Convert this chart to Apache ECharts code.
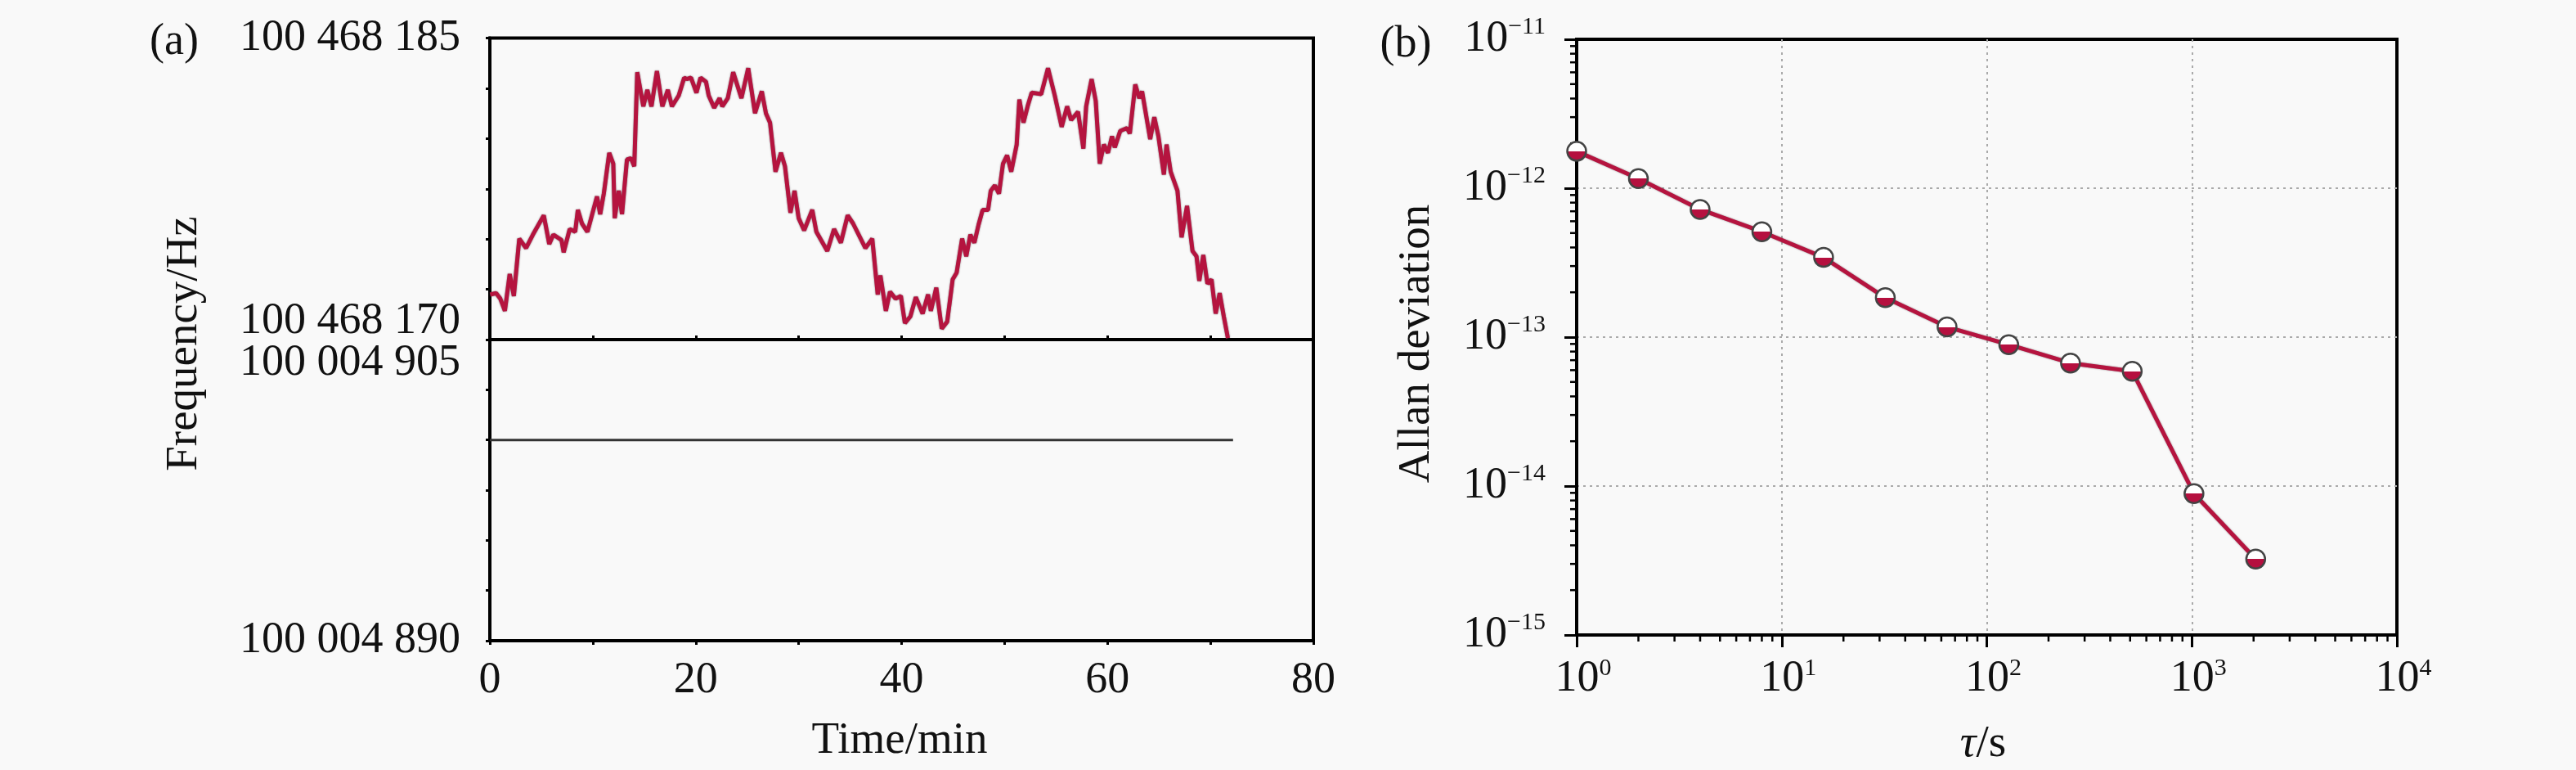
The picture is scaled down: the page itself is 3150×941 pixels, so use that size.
<!DOCTYPE html>
<html>
<head>
    <meta charset="utf-8">
    <title>frequency and allan deviation</title>
    <script src="https://cdn.jsdelivr.net/npm/echarts@6/dist/echarts.min.js"></script>
    <style>
        html, body {
            margin: 0;
            padding: 0;
            background: #f9f9f9;
        }
        #main {
            width: 3150px;
            height: 941px;
        }
    </style>
</head>
<body>
<div id="main"></div>

<script>
    // (a) upper trace: time in minutes, frequency in Hz
    var timeMin = [
        0.03, 0.61, 1.01, 1.46, 1.93, 2.33, 2.86, 3.52, 4.18, 5.24, 5.77, 6.17, 6.96, 7.17, 7.76, 8.29,
        8.55, 8.95, 9.48, 10.41, 10.72, 11.07, 11.60, 11.99, 12.13, 12.52, 12.84, 13.32, 13.71, 14.03,
        14.32, 14.91, 15.30, 15.70, 16.23, 16.76, 17.29, 17.69, 18.35, 18.88, 19.14, 19.54, 20.07, 20.47,
        21.00, 21.26, 21.79, 22.32, 22.58, 23.11, 23.64, 24.44, 25.10, 25.76, 26.42, 26.82, 27.22, 27.75,
        28.28, 28.67, 29.20, 29.60, 30.00, 30.53, 31.32, 31.72, 32.78, 33.44, 34.10, 34.76, 35.29, 36.48,
        37.15, 37.68, 37.94, 38.47, 38.87, 39.40, 39.93, 40.32, 40.85, 41.38, 42.04, 42.57, 42.84, 43.37,
        43.90, 44.43, 44.96, 45.35, 45.88, 46.28, 46.68, 47.07, 47.47, 47.87, 48.40, 48.66, 49.06, 49.46,
        49.85, 50.25, 50.65, 51.18, 51.44, 51.84, 52.24, 52.64, 53.56, 54.22, 54.88, 55.55, 56.08, 56.47,
        57.14, 57.66, 57.93, 58.46, 58.86, 59.25, 59.65, 60.05, 60.44, 60.71, 61.24, 61.90, 62.17, 62.70,
        63.09, 63.36, 64.15, 64.55, 64.95, 65.48, 65.74, 66.14, 66.80, 67.20, 67.73, 68.26, 68.65, 68.92,
        69.31, 69.71, 70.11, 70.51, 70.90, 71.30, 71.70
    ];
    var freqTop = [
        100468172.24, 100468172.31, 100468172.04, 100468171.43, 100468173.26, 100468172.17, 100468175.02,
        100468174.55, 100468175.22, 100468176.18, 100468174.75, 100468175.22, 100468174.95, 100468174.34,
        100468175.50, 100468175.36, 100468176.45, 100468175.77, 100468175.36, 100468177.12, 100468176.24,
        100468177.26, 100468179.29, 100468178.75, 100468176.04, 100468177.40, 100468176.24, 100468178.96,
        100468179.02, 100468178.62, 100468183.30, 100468181.60, 100468182.42, 100468181.60, 100468183.36,
        100468181.60, 100468182.42, 100468181.60, 100468182.14, 100468183.03, 100468182.96, 100468183.03,
        100468182.28, 100468183.03, 100468182.82, 100468182.14, 100468181.53, 100468182.01, 100468181.60,
        100468182.00, 100468183.30, 100468182.01, 100468183.50, 100468181.26, 100468182.35, 100468181.26,
        100468180.79, 100468178.35, 100468179.29, 100468178.62, 100468176.31, 100468177.40, 100468176.04,
        100468175.43, 100468176.45, 100468175.36, 100468174.41, 100468175.50, 100468174.82, 100468176.18,
        100468175.77, 100468174.55, 100468175.02, 100468172.24, 100468173.19, 100468171.43, 100468172.38,
        100468172.04, 100468172.17, 100468170.82, 100468171.15, 100468172.11, 100468171.29, 100468172.24,
        100468171.43, 100468172.58, 100468170.54, 100468170.89, 100468172.99, 100468173.33, 100468175.02,
        100468174.14, 100468175.22, 100468174.82, 100468175.70, 100468176.45, 100468176.45, 100468177.40,
        100468177.67, 100468177.26, 100468178.75, 100468179.16, 100468178.35, 100468179.70, 100468181.94,
        100468180.79, 100468181.60, 100468182.28, 100468182.21, 100468183.50, 100468182.14, 100468180.58,
        100468181.60, 100468180.92, 100468181.33, 100468179.50, 100468181.60, 100468182.96, 100468181.87,
        100468178.75, 100468179.70, 100468179.29, 100468180.11, 100468179.56, 100468180.38, 100468180.52,
        100468180.25, 100468182.69, 100468182.01, 100468182.35, 100468179.97, 100468181.06, 100468180.11,
        100468178.21, 100468179.70, 100468178.35, 100468177.40, 100468175.09, 100468176.65, 100468174.41,
        100468174.14, 100468172.92, 100468174.21, 100468172.78, 100468172.99, 100468171.29, 100468172.31,
        100468171.15, 100468170.07
    ];

    // (a) lower trace: flat reference
    var timeRef = [0, 72.2];
    var freqRef = [100004900, 100004900];

    // (b) Allan deviation
    var tau = [1, 2, 4, 8, 16, 32, 64, 128, 256, 512, 1024, 2048];
    var adev = [1.77e-12, 1.16e-12, 7.2e-13, 5.1e-13, 3.43e-13, 1.84e-13, 1.17e-13, 8.9e-14, 6.7e-14, 5.9e-14, 8.9e-15, 3.23e-15];

    // axis extents / tick labels
    var topRange = [100468170, 100468185];
    var botRange = [100004890, 100004905];
    var timeTicks = [0, 20, 40, 60, 80];

    var FONT = 'Liberation Serif';
    var RED = '#b5143f';

    function spaced(v) {
        return String(Math.round(v)).replace(/\B(?=(\d{3})+(?!\d))/g, ' ');
    }
    function pair(xs, ys) {
        return xs.map(function (x, i) { return [x, ys[i]]; });
    }
    function near(a, b) { return Math.abs(a - b) < 1e-6; }

    // log minor ticks (2..9 per decade)
    function minors(e0, e1) {
        var out = [];
        for (var e = e0; e < e1; e++) {
            for (var m = 2; m <= 9; m++) out.push(m * Math.pow(10, e));
        }
        return out;
    }
    var xMinor = minors(0, 4);
    var yMinor = minors(-15, -11);

    var chart = echarts.init(document.getElementById('main'), null, {width: 3150, height: 941});

    var axisLine = {show: true, onZero: false, lineStyle: {color: '#000', width: 4}};
    var labelBase = {fontFamily: FONT, fontSize: 54, color: '#111'};
    var gridSplit = {show: true, showMinLine: false, showMaxLine: false, lineStyle: {color: '#aaa', width: 2, type: [3, 5]}};

    var option = {
        backgroundColor: '#f9f9f9',
        animation: false,
        grid: [
            {left: 599, right: 1544, top: 46.5, height: 368.5, show: true, borderColor: '#000', borderWidth: 4, backgroundColor: 'transparent'},
            {left: 599, right: 1544, top: 415, height: 368, show: true, borderColor: '#000', borderWidth: 4, backgroundColor: 'transparent'},
            {left: 1928, right: 219, top: 48, height: 728, show: true, borderColor: '#000', borderWidth: 4, backgroundColor: 'transparent'}
        ],
        xAxis: [
            {
                gridIndex: 0, type: 'value', min: 0, max: 80, interval: 10,
                axisLine: axisLine,
                axisTick: {show: true, inside: true, length: 5, lineStyle: {color: '#000', width: 3}},
                axisLabel: {show: false},
                splitLine: {show: false}
            },
            {
                gridIndex: 1, type: 'value', min: 0, max: 80, interval: 10,
                axisLine: axisLine,
                axisTick: {show: true, length: 5, lineStyle: {color: '#000', width: 3}},
                axisLabel: Object.assign({margin: 22, formatter: function (v) {
                    return timeTicks.indexOf(v) >= 0 ? String(v) : '';
                }}, labelBase),
                splitLine: {show: false}
            },
            {
                gridIndex: 2, type: 'log', logBase: 10, min: 1, max: 10000,
                axisLine: axisLine,
                axisTick: {show: true, length: 15, lineStyle: {color: '#000', width: 3}},
                axisLabel: {
                    margin: 26,
                    formatter: function (v) {
                        return '{b|10}{s|' + Math.round(Math.log10(v)) + '}';
                    },
                    rich: {
                        b: {fontFamily: FONT, fontSize: 54, color: '#111', padding: [0, 0, 0, 16]},
                        s: {fontFamily: FONT, fontSize: 30, color: '#111', padding: [0, 0, 26, 0]}
                    }
                },
                splitLine: gridSplit
            }
        ],
        yAxis: [
            {
                gridIndex: 0, type: 'value', min: topRange[0], max: topRange[1], interval: 2.5,
                axisLine: axisLine,
                axisTick: {show: true, length: 5, lineStyle: {color: '#000', width: 3}},
                axisLabel: Object.assign({
                    margin: 36,
                    formatter: function (v) {
                        if (near(v, topRange[1])) return spaced(v);
                        if (near(v, topRange[0])) return '{lo|' + spaced(v) + '}';
                        return '';
                    },
                    rich: {lo: {fontFamily: FONT, fontSize: 54, color: '#111', padding: [0, 0, 44, 0]}}
                }, labelBase),
                splitLine: {show: false}
            },
            {
                gridIndex: 1, type: 'value', min: botRange[0], max: botRange[1], interval: 2.5,
                axisLine: axisLine,
                axisTick: {show: true, length: 5, lineStyle: {color: '#000', width: 3}},
                axisLabel: Object.assign({
                    margin: 36,
                    formatter: function (v) {
                        if (near(v, botRange[0])) return spaced(v);
                        if (near(v, botRange[1])) return '{hi|' + spaced(v) + '}';
                        return '';
                    },
                    rich: {hi: {fontFamily: FONT, fontSize: 54, color: '#111', padding: [58, 0, 0, 0]}}
                }, labelBase),
                splitLine: {show: false}
            },
            {
                gridIndex: 2, type: 'log', logBase: 10, min: 1e-15, max: 1e-11,
                axisLine: axisLine,
                axisTick: {show: true, length: 15, lineStyle: {color: '#000', width: 3}},
                axisLabel: {
                    margin: 38,
                    formatter: function (v) {
                        return '{b|10}{s|\u2212' + Math.abs(Math.round(Math.log10(v))) + '}';
                    },
                    rich: {
                        b: {fontFamily: FONT, fontSize: 54, color: '#111'},
                        s: {fontFamily: FONT, fontSize: 30, color: '#111', padding: [0, 0, 30, 0]}
                    }
                },
                splitLine: gridSplit
            }
        ],
        graphic: [
            {type: 'text', x: 213, y: 52, style: {text: '(a)', font: '54px "Liberation Serif"', fill: '#111', align: 'center', verticalAlign: 'middle'}},
            {type: 'text', x: 226, y: 420, rotation: Math.PI / 2, style: {text: 'Frequency/Hz', font: '55px "Liberation Serif"', fill: '#111', align: 'center', verticalAlign: 'middle'}},
            {type: 'text', x: 1100, y: 906, style: {text: 'Time/min', font: '55px "Liberation Serif"', fill: '#111', align: 'center', verticalAlign: 'middle'}},
            {type: 'text', x: 1719, y: 55, style: {text: '(b)', font: '54px "Liberation Serif"', fill: '#111', align: 'center', verticalAlign: 'middle'}},
            {type: 'text', x: 1733, y: 420, rotation: Math.PI / 2, style: {text: 'Allan deviation', font: '55px "Liberation Serif"', fill: '#111', align: 'center', verticalAlign: 'middle'}},
            {type: 'text', x: 2425, y: 910, style: {
                text: '{i|\u03c4}/s', font: '55px "Liberation Serif"', fill: '#111', align: 'center', verticalAlign: 'middle',
                rich: {i: {fontStyle: 'italic', fontFamily: FONT, fontSize: 55, fill: '#111'}}
            }}
        ],
        series: [
            {
                type: 'line', xAxisIndex: 0, yAxisIndex: 0,
                data: pair(timeMin, freqTop),
                symbol: 'none',
                lineStyle: {color: RED, width: 5, shadowColor: 'rgba(40,20,30,0.6)', shadowBlur: 2},
                z: 3
            },
            {
                type: 'line', xAxisIndex: 1, yAxisIndex: 1,
                data: pair(timeRef, freqRef),
                symbol: 'none',
                lineStyle: {color: '#333', width: 3},
                z: 3
            },
            {
                type: 'line', xAxisIndex: 2, yAxisIndex: 2,
                data: pair(tau, adev),
                symbol: 'circle', symbolSize: 23,
                lineStyle: {color: RED, width: 5, shadowColor: 'rgba(40,20,30,0.5)', shadowBlur: 2},
                itemStyle: {
                    color: new echarts.graphic.LinearGradient(0, 0, 0, 1, [
                        {offset: 0, color: '#ffffff'},
                        {offset: 0.5, color: '#ffffff'},
                        {offset: 0.5, color: '#b5103f'},
                        {offset: 1, color: '#b5103f'}
                    ]),
                    borderColor: '#444',
                    borderWidth: 2.5
                },
                z: 4
            },
            {
                // log-spaced minor ticks on the x axis of (b)
                type: 'custom', xAxisIndex: 2, yAxisIndex: 2, clip: false, silent: true,
                data: xMinor.map(function (v) { return [v, 1e-15]; }),
                renderItem: function (params, api) {
                    var p = api.coord([api.value(0), api.value(1)]);
                    return {type: 'line', shape: {x1: p[0], y1: p[1], x2: p[0], y2: p[1] + 8}, style: {stroke: '#000', lineWidth: 2.5}};
                }
            },
            {
                // log-spaced minor ticks on the y axis of (b)
                type: 'custom', xAxisIndex: 2, yAxisIndex: 2, clip: false, silent: true,
                data: yMinor.map(function (v) { return [1, v]; }),
                renderItem: function (params, api) {
                    var p = api.coord([api.value(0), api.value(1)]);
                    return {type: 'line', shape: {x1: p[0] - 8, y1: p[1], x2: p[0], y2: p[1]}, style: {stroke: '#000', lineWidth: 2.5}};
                }
            }
        ]
    };

    chart.setOption(option);
</script>
</body>
</html>
